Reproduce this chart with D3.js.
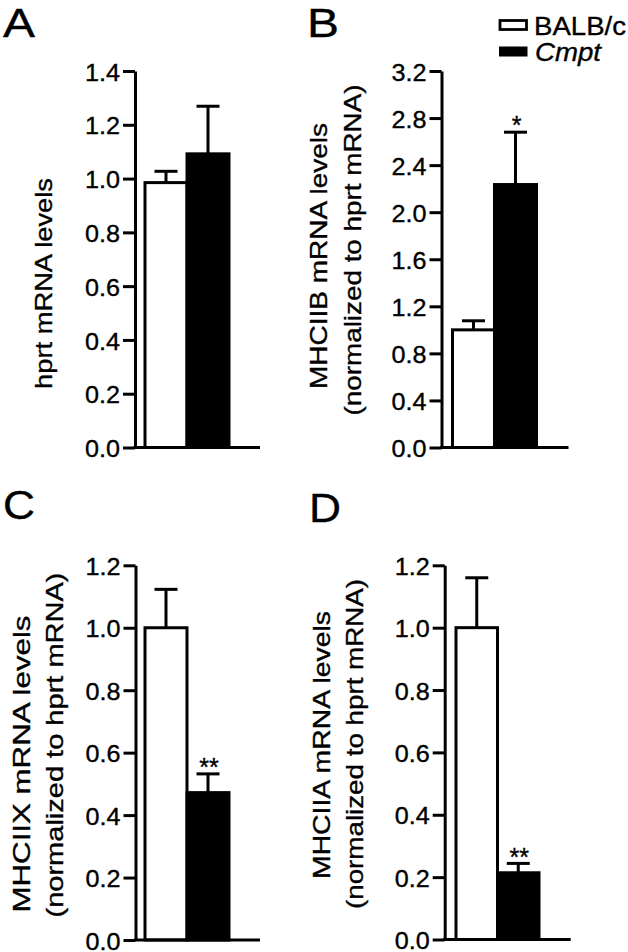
<!DOCTYPE html>
<html><head><meta charset="utf-8">
<script src="https://cdn.jsdelivr.net/npm/d3@7"></script>
<style>
html,body{margin:0;padding:0;background:#fff;}
svg{display:block;font-family:"Liberation Sans",Arial,Helvetica,sans-serif;}
</style>
</head><body>
<svg id="chart" width="628" height="952"></svg>
<script>
// ---------- data ----------
const groups = ["BALB/c", "Cmpt"];
const groupFill = ["#ffffff", "#000000"];

const meanA = [0.985, 1.092];
const semA  = [0.042, 0.177];
const meanB = [1.0, 2.235];
const semB  = [0.077, 0.445];
const meanC = [1.0, 0.472];
const semC  = [0.123, 0.06];
const meanD = [1.0, 0.214];
const semD  = [0.16, 0.03];

const ticksA = [0, 0.2, 0.4, 0.6, 0.8, 1.0, 1.2, 1.4];
const tickLabelsA = ["0.0","0.2","0.4","0.6","0.8","1.0","1.2","1.4"];
const ticksB = [0, 0.4, 0.8, 1.2, 1.6, 2.0, 2.4, 2.8, 3.2];
const tickLabelsB = ["0.0","0.4","0.8","1.2","1.6","2.0","2.4","2.8","3.2"];
const ticksCD = [0, 0.2, 0.4, 0.6, 0.8, 1.0, 1.2];
const tickLabelsCD = ["0.0","0.2","0.4","0.6","0.8","1.0","1.2"];

const sigA = ["", ""];
const sigB = ["", "*"];
const sigC = ["", "**"];
const sigD = ["", "**"];

const yLabelA = ["hprt mRNA levels"];
const yLabelB = ["MHCIIB mRNA levels", "(normalized to hprt mRNA)"];
const yLabelC = ["MHCIIX mRNA levels", "(normalized to hprt mRNA)"];
const yLabelD = ["MHCIIA mRNA levels", "(normalized to hprt mRNA)"];

// ---------- drawing ----------
const svg = d3.select("#chart");
const SW = 3;
const TXT_STROKE = 0.35;

function heavy(sel) {
  return sel.attr("fill", "#000").attr("stroke", "#000").attr("stroke-width", TXT_STROKE);
}

function drawPanel(cfg, id, means, sems, ticks, tickLabels, sig, ylab) {
  const g = svg.append("g");
  const y = d3.scaleLinear().domain([0, ticks[ticks.length - 1]]).range([cfg.y0, cfg.y1]);
  const x = d3.scaleBand().domain(groups).range([cfg.barL, cfg.barR]).paddingInner(0).paddingOuter(0);
  const bw = x.bandwidth();

  // error bars (one-sided, upward)
  groups.forEach((gn, i) => {
    const cx = x(gn) + bw / 2;
    const top = y(means[i] + sems[i]);
    g.append("line").attr("x1", cx).attr("x2", cx)
      .attr("y1", y(means[i])).attr("y2", top)
      .attr("stroke", "#000").attr("stroke-width", SW);
    g.append("line").attr("x1", cx - 11.5).attr("x2", cx + 11.5)
      .attr("y1", top).attr("y2", top)
      .attr("stroke", "#000").attr("stroke-width", SW);
    if (sig[i]) {
      heavy(g.append("text").attr("x", cx + 1).attr("y", top - 13)
        .attr("text-anchor", "middle").attr("dominant-baseline", "central")
        .attr("font-size", 25).attr("dy", "0.25em")).text(sig[i]);
    }
  });

  // bars
  g.selectAll("rect.bar").data(groups).enter().append("rect")
    .attr("class", "bar")
    .attr("x", d => x(d))
    .attr("y", (d, i) => y(means[i]))
    .attr("width", bw)
    .attr("height", (d, i) => y(0) - y(means[i]))
    .attr("fill", (d, i) => groupFill[i])
    .attr("stroke", "#000").attr("stroke-width", SW);

  // y axis
  const ax = d3.axisLeft(y).tickValues(ticks).tickFormat((d, i) => tickLabels[i])
    .tickSize(12).tickSizeOuter(0).tickPadding(3);
  const ag = g.append("g").attr("transform", `translate(${cfg.axisX},0)`).call(ax);
  ag.attr("font-size", null).attr("font-family", null);
  ag.select(".domain").attr("stroke", "#000").attr("stroke-width", SW);
  ag.selectAll(".tick line").attr("stroke", "#000").attr("stroke-width", SW);
  heavy(ag.selectAll(".tick text")).attr("font-size", 24)
    .attr("dy", "0.38em").attr("textLength", 35).attr("lengthAdjust", "spacingAndGlyphs");

  // baseline
  g.append("line").attr("x1", cfg.axisX - 1.5).attr("x2", cfg.baseEnd)
    .attr("y1", y(0)).attr("y2", y(0)).attr("stroke", "#000").attr("stroke-width", SW);

  // panel letter
  heavy(g.append("text").attr("x", cfg.letter[0]).attr("y", cfg.letter[1])
    .attr("font-size", 41).attr("stroke-width", 0.2)
    .attr("textLength", 32).attr("lengthAdjust", "spacingAndGlyphs")).text(id);

  // y label lines
  ylab.forEach((t, i) => {
    const L = cfg.ylab[i];
    heavy(g.append("text")
      .attr("transform", `translate(${L[0]},${L[1]}) rotate(-90)`)
      .attr("text-anchor", "middle").attr("font-size", 24)
      .attr("textLength", L[2]).attr("lengthAdjust", "spacingAndGlyphs"))
      .text(t);
  });
}

drawPanel({axisX:135, y0:447.5, y1:71, barL:145, barR:229, baseEnd:260, letter:[3,37],
           ylab:[[52,283.5,211]]}, "A", meanA, semA, ticksA, tickLabelsA, sigA, yLabelA);
drawPanel({axisX:441.5, y0:447.5, y1:71, barL:452.5, barR:536.5, baseEnd:568.5, letter:[307,37],
           ylab:[[327,256,266],[361,250,331]]}, "B", meanB, semB, ticksB, tickLabelsB, sigB, yLabelB);
drawPanel({axisX:135.5, y0:940, y1:565.3, barL:145, barR:229, baseEnd:260, letter:[3,519],
           ylab:[[30,764,297],[63,745,345]]}, "C", meanC, semC, ticksCD, tickLabelsCD, sigC, yLabelC);
drawPanel({axisX:444.7, y0:939.5, y1:565.3, barL:456, barR:539, baseEnd:570.7, letter:[309,522],
           ylab:[[330,745,268],[363,744,330]]}, "D", meanD, semD, ticksCD, tickLabelsCD, sigD, yLabelD);

// legend
const leg = svg.append("g");
const legRows = [[500, 20.5, 26.5, 9], [499, 46.5, 28.5, 10]];
const legText = [[534, 35, 92, "normal"], [535, 61, 66, "italic"]];
groups.forEach((gn, i) => {
  const r = legRows[i];
  leg.append("rect").attr("x", r[0]).attr("y", r[1]).attr("width", r[2]).attr("height", r[3])
    .attr("fill", groupFill[i]).attr("stroke", "#000").attr("stroke-width", i === 0 ? 2.8 : 0);
  const t = legText[i];
  heavy(leg.append("text").attr("x", t[0]).attr("y", t[1]).attr("font-size", 26)
    .attr("font-style", t[3]).attr("textLength", t[2]).attr("lengthAdjust", "spacingAndGlyphs")).text(gn);
});
</script>
</body></html>
